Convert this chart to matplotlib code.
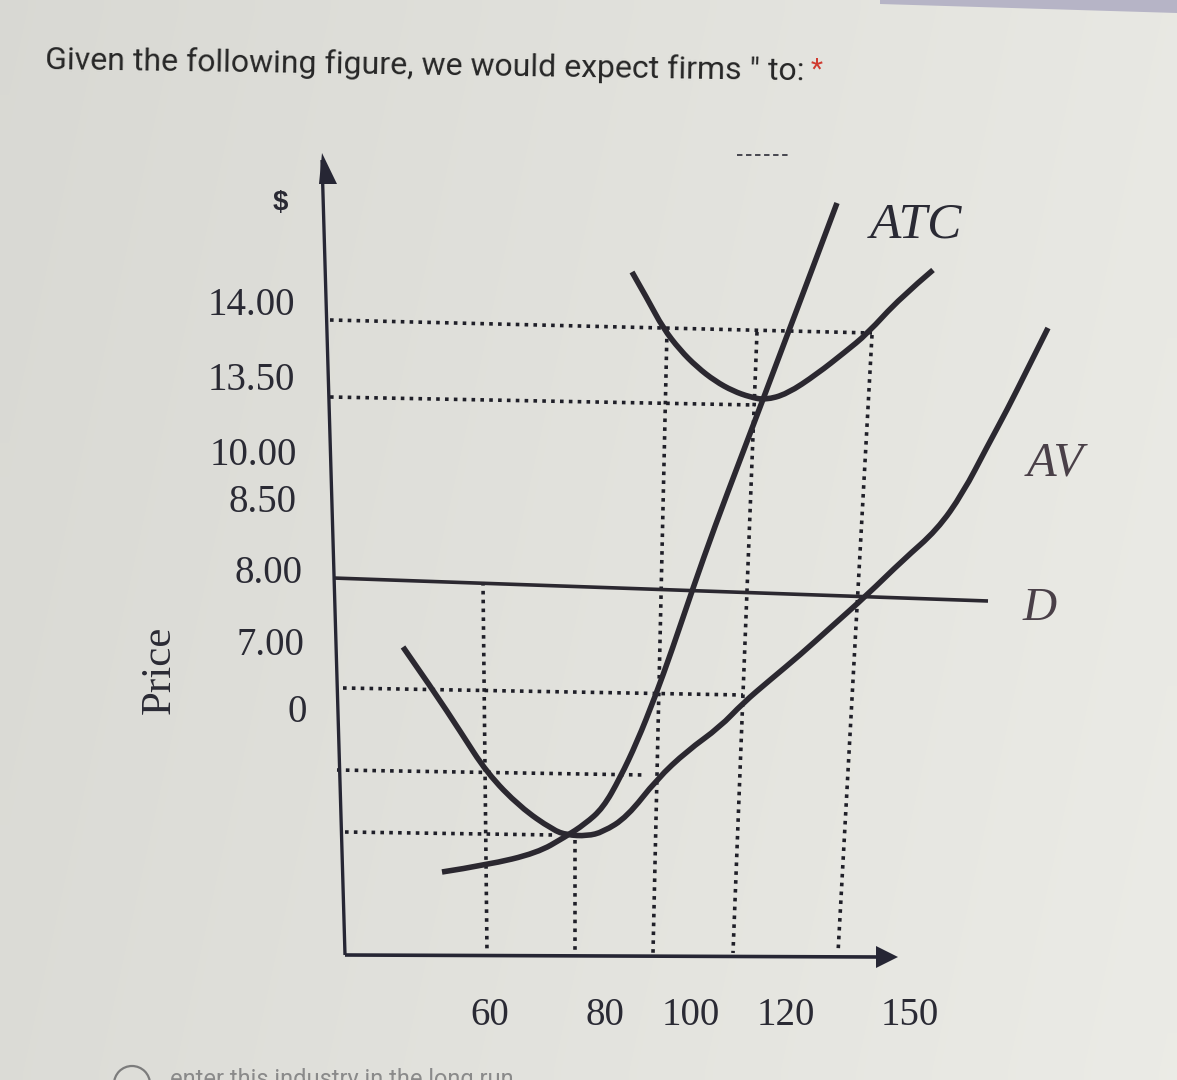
import numpy as np
import matplotlib
matplotlib.use("Agg")
import matplotlib.pyplot as plt
from matplotlib.patches import Polygon, Circle, PathPatch
from matplotlib.path import Path

# ---------------- data (screen units of the figure) ----------------
title_text = 'Given the following figure, we would expect firms " to:'
answer_text = "enter this industry in the long run"

price_labels = ["14.00", "13.50", "10.00", "8.50", "8.00", "7.00", "0"]
qty_labels = ["60", "80", "100", "120", "150"]

# marginal cost curve
mc_x = [442, 487, 537, 565, 585, 603, 620, 637, 655, 672, 693, 715, 740, 762, 785, 810, 837]
mc_y = [872, 865, 853, 837, 824, 808, 778, 742, 697, 650, 588, 526, 460, 402, 341, 275, 203]

# average total cost curve
atc_x = [632, 648, 663, 680, 697, 715, 733, 750, 765, 787, 817, 845, 867, 900, 933]
atc_y = [272, 300, 328, 350, 367, 381, 391, 397, 400, 394, 374, 352, 334, 298, 270]

# average variable cost curve
av_x = [403, 433, 460, 487, 520, 553, 567, 587, 603, 627, 657, 687, 720, 743, 770,
        800, 830, 867, 903, 937, 963, 987, 1007, 1027, 1048]
av_y = [647, 690, 731, 773, 807, 830, 835, 836, 832, 817, 779, 751, 727, 703, 680,
        655, 628, 595, 560, 530, 493, 447, 410, 370, 328]

# demand (price) line
d_x = [333, 988]
d_y = [578, 601]

# dotted guide lines: (x0, y0, x1, y1)
guides_h = [(330, 320, 872, 333), (330, 397, 755, 405), (343, 688, 743, 695),
            (337, 770, 645, 775), (345, 832, 555, 835)]
guides_v = [(483, 582, 487, 953), (575, 840, 575, 953), (667, 330, 653, 953),
            (757, 332, 733, 953), (872, 335, 838, 953)]

# ---------------- layout / style ----------------
W, H, DPI = 1177, 1080, 100
price_label_right = [295, 295, 297, 297, 303, 304, 307]
price_label_base = [315, 390, 465, 512, 583, 655, 722]
qty_label_cx = [490, 605, 691, 786, 910]
qty_label_base = 1025

ink = "#2b2830"
serif = ["Liberation Serif", "DejaVu Serif"]

fig = plt.figure(figsize=(W / DPI, H / DPI), dpi=DPI)
ax = fig.add_axes([0, 0, 1, 1])
ax.set_xlim(0, W)
ax.set_ylim(H, 0)
ax.axis("off")

# background (photographed screen, slightly darker on the left)
gx = np.linspace(0, 1, 64)
gy = np.linspace(0, 1, 64)
GX, GY = np.meshgrid(gx, gy)
shade = 0.85 + 0.06 * GX + 0.012 * GY
bg = np.dstack([shade, shade, shade - 0.02])
ax.imshow(bg, extent=[0, W, H, 0], aspect="auto", zorder=0, interpolation="bilinear")
ax.add_patch(Polygon([(880, 0), (W, 0), (W, 13), (880, 4)], closed=True,
                     facecolor="#b6b4c6", edgecolor="none", zorder=1))


def smooth_path(xs, ys):
    """Quadratic-Bezier path that uses the read points as control points."""
    pts = list(zip(xs, ys))
    verts = [pts[0]]
    codes = [Path.MOVETO]
    for i in range(1, len(pts) - 1):
        mid = ((pts[i][0] + pts[i + 1][0]) / 2, (pts[i][1] + pts[i + 1][1]) / 2)
        if i == len(pts) - 2:
            mid = pts[i + 1]
        verts += [pts[i], mid]
        codes += [Path.CURVE3, Path.CURVE3]
    return Path(verts, codes)


# dotted guides
for x0, y0, x1, y1 in guides_h + guides_v:
    ax.plot([x0, x1], [y0, y1], color="#1f1f28", lw=2.6, linestyle=(0, (1.0, 1.45)),
            dash_capstyle="butt", zorder=2)

# demand line
ax.plot(d_x, d_y, color=ink, lw=2.6, solid_capstyle="butt", zorder=3)

# cost curves
for xs, ys in [(mc_x, mc_y), (atc_x, atc_y), (av_x, av_y)]:
    ax.add_patch(PathPatch(smooth_path(xs, ys), facecolor="none", edgecolor=ink, lw=4.0,
                           capstyle="butt", joinstyle="round", zorder=4))

# axes with arrows
ax.plot([322, 345], [160, 955], color="#262634", lw=2.4, solid_capstyle="butt", zorder=5)
ax.plot([345, 878], [955, 957], color="#262634", lw=2.6, solid_capstyle="butt", zorder=5)
ax.add_patch(Polygon([(322, 153), (337, 184), (319, 184)], closed=True,
                     facecolor="#262634", edgecolor="none", zorder=5))
ax.add_patch(Polygon([(876, 946), (898, 957), (876, 968)], closed=True,
                     facecolor="#262634", edgecolor="none", zorder=5))

# small dashed fragment at the top
ax.plot([737, 790], [155, 155], color="#3a3a44", lw=1.3, linestyle=(0, (3, 2)), zorder=3)

# title
ax.text(45, 69, title_text, family=["Roboto", "DejaVu Sans"],
        fontsize=23, color="#262626", ha="left", va="baseline",
        rotation=-0.85, rotation_mode="anchor", zorder=6)
ax.text(811, 70, "*", family=["Roboto", "DejaVu Sans"], fontsize=20, color="#d03a2f",
        ha="left", va="center", zorder=6)

# axis texts
ax.text(280, 203, "$", family=["Liberation Sans", "DejaVu Sans"], fontweight="bold",
        fontsize=20, color="#2a2a34", ha="center", va="center", zorder=6)
for lab, xr, yb in zip(price_labels, price_label_right, price_label_base):
    ax.text(xr, yb, lab, family=serif, fontsize=28, color="#2a2a34",
            ha="right", va="baseline", zorder=6)
for lab, xc in zip(qty_labels, qty_label_cx):
    ax.text(xc, qty_label_base, lab, family=serif, fontsize=28, color="#2a2a34",
            ha="center", va="baseline", zorder=6)
ax.text(160, 670, "Price", family=serif, fontsize=31, color="#2a2a34", rotation=90,
        ha="center", va="center", zorder=6)

# curve labels
ax.text(870, 237, "ATC", family=serif, style="italic", fontsize=37, color="#2a2a34",
        ha="left", va="baseline", zorder=6)
ax.text(1027, 475, "AV", family=serif, style="italic", fontsize=35, color="#4a4048",
        ha="left", va="baseline", zorder=6)
ax.text(1023, 620, "D", family=serif, style="italic", fontsize=34, color="#4a4048",
        ha="left", va="baseline", zorder=6)

# partially visible answer option at the bottom
ax.add_patch(Circle((132, 1084), 18, facecolor="none", edgecolor="#7c7c7c", lw=1.6, zorder=6))
ax.text(170, 1086, answer_text, family=["Roboto", "DejaVu Sans"], fontsize=17,
        color="#8a8a8a", ha="left", va="baseline", zorder=6)

fig.savefig("out.png", dpi=DPI)
